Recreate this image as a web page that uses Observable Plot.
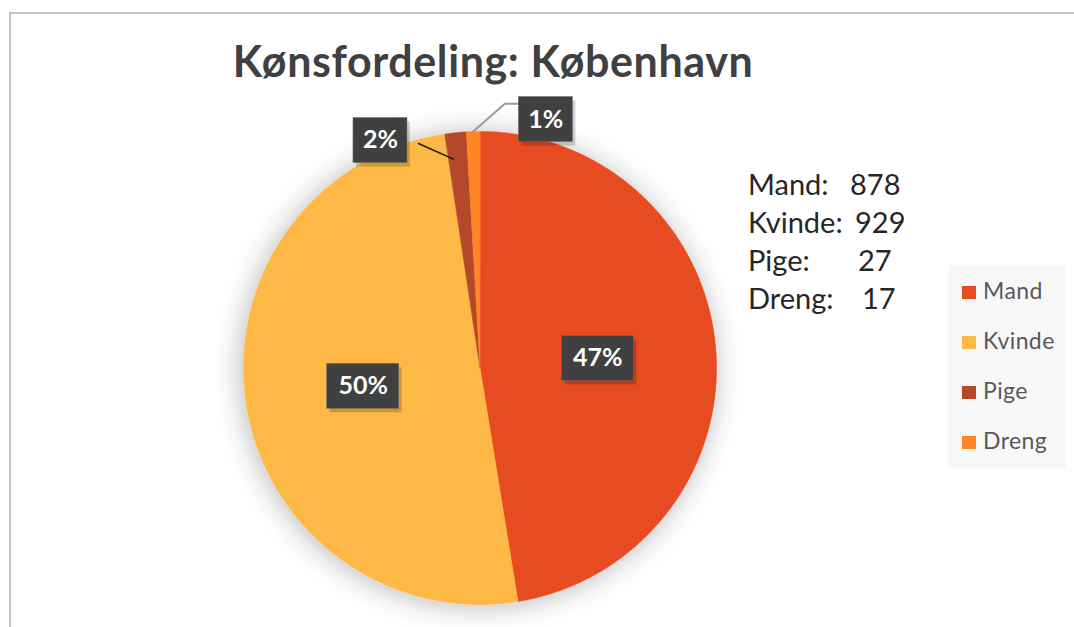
<!DOCTYPE html>
<html><head><meta charset="utf-8">
<script src="https://cdn.jsdelivr.net/npm/d3@7"></script>
<script src="https://cdn.jsdelivr.net/npm/@observablehq/plot@0.6"></script>
<style>
body{margin:0;background:#fff;font-family:Lato,"Open Sans",sans-serif;}
#wrap{position:relative;width:1074px;height:627px;overflow:hidden;background:#fff;}
#wrap svg{position:absolute;left:0;top:0;}
#frame{position:absolute;left:9px;top:12px;width:1100px;height:700px;border-left:2px solid #c3c3c3;border-top:2px solid #c3c3c3;}
#title{position:absolute;left:0;width:986px;top:35px;text-align:center;font-weight:700;font-size:43px;letter-spacing:0.6px;color:#404040;white-space:nowrap;}
#note{position:absolute;left:748px;top:165px;font-size:29px;color:#262626;}
.nl{position:relative;height:38px;line-height:38px;white-space:nowrap;}
.nv{position:absolute;top:0;}
#legend{position:absolute;left:948px;top:265px;width:118px;height:203px;background:#f8f8f8;}
.item{position:absolute;left:14px;height:20px;font-size:23px;letter-spacing:0.4px;color:#595959;line-height:20px;}
.sw{position:absolute;left:0;top:4px;width:14px;height:13px;}
.lt{position:absolute;left:21px;top:-2px;white-space:nowrap;}
</style></head><body><div id="wrap"></div>
<script>
// ---- data ----
const categories = ["Mand", "Kvinde", "Pige", "Dreng"];
const values = [878, 929, 27, 17];
const percentLabels = ["47%", "50%", "2%", "1%"];
const colors = ["#E64B22", "#FDB845", "#B5472A", "#FF8528"];
const noteNames = ["Mand:", "Kvinde:", "Pige:", "Dreng:"];
const noteValues = ["878", "929", "27", "17"];
const titleText = "Kønsfordeling: København";

// ---- layout (pixels) ----
const W = 1074, H = 627, cx = 479.5, cy = 367.5, R = 236.5;
const F = "Lato, 'Open Sans', sans-serif";
const noteValueX = [102, 107, 110, 114];

const arcs = d3.pie().sort(null).startAngle(0).endAngle(2 * Math.PI)(values);
const pt = (a, r) => ({x: r * Math.sin(a), y: r * Math.cos(a)});

// slice polygons
const slices = [];
arcs.forEach((a, i) => {
  slices.push({cat: categories[i], ...pt(0, 0)});
  const n = Math.max(4, Math.ceil((a.endAngle - a.startAngle) / 0.005));
  for (let k = 0; k <= n; k++) {
    const ang = a.startAngle + (a.endAngle - a.startAngle) * k / n;
    slices.push({cat: categories[i], ...pt(ang, 1)});
  }
});

// label placement: inside labels on the mid angle, small slices moved outside (as in the reference)
const deg = Math.PI / 180;
const labelPlace = [
  {r: 0.5, shift: 0}, {r: 0.5, shift: 0},
  {r: 1.05, shift: -17.7 * deg}, {r: 1.087, shift: 16.5 * deg}
];
const labels = arcs.map((a, i) => {
  const mid = (a.startAngle + a.endAngle) / 2;
  const p = pt(mid + labelPlace[i].shift, labelPlace[i].r);
  const wpx = percentLabels[i].length === 3 ? 72 : 54, hpx = 45;
  return {label: percentLabels[i], x: p.x, y: p.y,
    x1: p.x - wpx / 2 / R, x2: p.x + wpx / 2 / R, y1: p.y - hpx / 2 / R, y2: p.y + hpx / 2 / R};
});

// leader lines
const midA = i => (arcs[i].startAngle + arcs[i].endAngle) / 2;
const leaderPige = [pt(midA(2) - 1.3 * deg, 0.89), {x: labels[2].x2 + 11 / R, y: labels[2].y - 3 / R}];
const leaderDreng = [pt(midA(3), 1.0), {x: labels[3].x1 - 14 / R, y: labels[3].y + 0.067}, {x: labels[3].x1, y: labels[3].y + 0.067}];

const chart = Plot.plot({
  width: W, height: H,
  marginTop: 0, marginRight: 0, marginBottom: 0, marginLeft: 0,
  x: {domain: [-1, 1], range: [cx - R, cx + R], axis: null},
  y: {domain: [-1, 1], range: [cy + R, cy - R], axis: null},
  color: {domain: categories, range: colors},
  style: {background: "transparent", fontFamily: F},
  marks: [
    Plot.line(slices, {x: "x", y: "y", z: "cat", fill: "cat", stroke: "cat", strokeWidth: 0.6, curve: "linear-closed"}),
    Plot.line(leaderPige, {x: "x", y: "y", stroke: "#1a1a1a", strokeWidth: 1.5}),
    Plot.line(leaderDreng, {x: "x", y: "y", stroke: "#9a9a9a", strokeWidth: 2}),
    Plot.rect(labels, {x1: "x1", x2: "x2", y1: "y1", y2: "y2", fill: "#000", fillOpacity: 0.18, dx: 3, dy: 4}),
    Plot.rect(labels, {x1: "x1", x2: "x2", y1: "y1", y2: "y2", fill: "#404040", stroke: "#6b6b6b", strokeWidth: 0.5}),
    Plot.text(labels, {x: "x", y: "y", text: "label", fill: "#fff", fontSize: 25, fontWeight: "bold", fontFamily: F})
  ]
});

// soft shadow around the pie
const defs = document.createElementNS("http://www.w3.org/2000/svg", "defs");
defs.innerHTML = '<filter id="pieShadow" x="-20%" y="-20%" width="140%" height="140%"><feDropShadow dx="-2" dy="2" stdDeviation="14" flood-color="#000" flood-opacity="0.28"/></filter>';
chart.insertBefore(defs, chart.firstChild);
const pieG = chart.querySelector('g[aria-label="line"]');
if (pieG) pieG.setAttribute("filter", "url(#pieShadow)");

const wrap = document.getElementById("wrap");
wrap.appendChild(chart);
const frame = document.createElement("div"); frame.id = "frame"; wrap.appendChild(frame);
const t = document.createElement("div"); t.id = "title"; t.textContent = titleText; wrap.appendChild(t);
const note = document.createElement("div"); note.id = "note";
noteNames.forEach((n, i) => {
  const line = document.createElement("div"); line.className = "nl";
  const a = document.createElement("span"); a.textContent = n;
  const b = document.createElement("span"); b.className = "nv"; b.style.left = noteValueX[i] + "px"; b.textContent = noteValues[i];
  line.appendChild(a); line.appendChild(b); note.appendChild(line);
});
wrap.appendChild(note);
const lg = document.createElement("div"); lg.id = "legend";
categories.forEach((c, i) => {
  const it = document.createElement("div"); it.className = "item"; it.style.top = (17 + 50 * i) + "px";
  const sw = document.createElement("div"); sw.className = "sw"; sw.style.background = colors[i];
  const lt = document.createElement("div"); lt.className = "lt"; lt.textContent = c;
  it.appendChild(sw); it.appendChild(lt); lg.appendChild(it);
});
wrap.appendChild(lg);
</script></body></html>
